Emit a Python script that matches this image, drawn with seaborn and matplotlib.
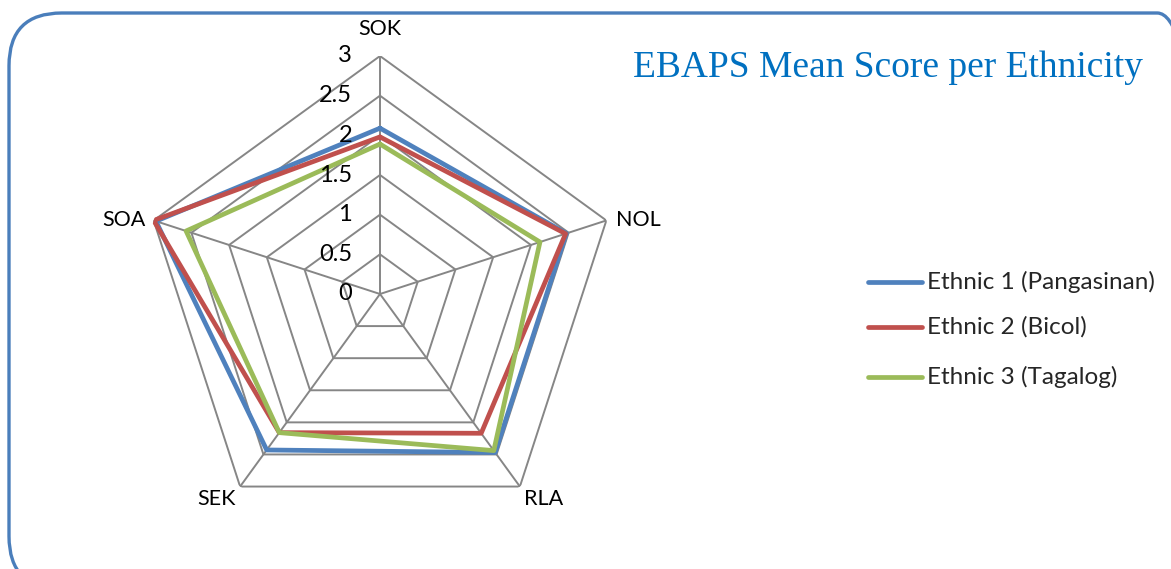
import numpy as np
import pandas as pd
import seaborn as sns
import matplotlib.pyplot as plt
from matplotlib.patches import FancyBboxPatch

# Dữ liệu
categories = ["SOK", "NOL", "RLA", "SEK", "SOA"]
series_names = ["Ethnic 1 (Pangasinan)", "Ethnic 2 (Bicol)", "Ethnic 3 (Tagalog)"]
ethnic1 = [2.09, 2.47, 2.47, 2.43, 2.97]
ethnic2 = [1.98, 2.46, 2.17, 2.16, 3.0]
ethnic3 = [1.89, 2.12, 2.44, 2.16, 2.57]
radial_ticks = [0, 0.5, 1, 1.5, 2, 2.5, 3]
radial_labels = ["0", "0.5", "1", "1.5", "2", "2.5", "3"]
colors = ["#4F81BD", "#C0504D", "#9BBB59"]

sns.set_style("white")
plt.rcParams["font.family"] = ["Lato", "DejaVu Sans"]

n = len(categories)
angles = np.linspace(0, 2 * np.pi, n, endpoint=False)
angles_closed = np.append(angles, 2 * np.pi)

rows = []
for name, vals in zip(series_names, [ethnic1, ethnic2, ethnic3]):
    closed = list(vals) + [vals[0]]
    for th, v in zip(angles_closed, closed):
        rows.append({"theta": th, "value": v, "series": name})
df = pd.DataFrame(rows)

W, H = 1171, 569
fig = plt.figure(figsize=(W / 100, H / 100), dpi=100)

# khung viền bo góc
border = FancyBboxPatch((9 / W, -20 / H), (W + 30) / W, (H - 13 + 20) / H,
                        boxstyle="round,pad=0,rounding_size=0.045",
                        transform=fig.transFigure, fill=False,
                        edgecolor="#4A7EBB", linewidth=2.4, mutation_aspect=W / H)
fig.patches.append(border)

cx, cy, R = 380, 294, 238
ax = fig.add_axes([(cx - R) / W, (H - cy - R) / H, 2 * R / W, 2 * R / H], projection="polar")
ax.set_theta_offset(np.pi / 2)
ax.set_theta_direction(-1)
ax.set_ylim(0, 3)
ax.grid(False)
ax.spines["polar"].set_visible(False)
ax.set_xticks([])
ax.set_yticks([])
ax.patch.set_alpha(0)

grid_col = "#868686"
for r in radial_ticks[1:]:
    ax.plot(angles_closed, [r] * (n + 1), color=grid_col, lw=1.4, zorder=1)
for th in angles:
    ax.plot([th, th], [0, 3], color=grid_col, lw=1.4, zorder=1)

sns.lineplot(data=df, x="theta", y="value", hue="series", palette=colors,
             sort=False, estimator=None, lw=3.4, ax=ax, zorder=3, legend=False)
ax.set_xlabel("")
ax.set_ylabel("")
ax.set_ylim(0, 3)

# nhãn trục bán kính
for r, lab in zip(radial_ticks, radial_labels):
    ax.annotate(lab, xy=(0, r), xytext=(-20, 0), textcoords="offset points",
                ha="right", va="center", fontsize=17, color="black")

# nhãn các đỉnh
offsets = {"SOK": (0, 12, "center", "bottom"), "NOL": (7, 0, "left", "center"),
           "RLA": (3, -2, "left", "top"), "SEK": (-3, -2, "right", "top"),
           "SOA": (-6, 0, "right", "center")}
for th, cat in zip(angles, categories):
    dx, dy, ha, va = offsets[cat]
    ax.annotate(cat, xy=(th, 3), xytext=(dx, dy), textcoords="offset points",
                ha=ha, va=va, fontsize=15.5, color="black")

fig.text(888 / W, 1 - 68 / H, "EBAPS Mean Score per Ethnicity", ha="center", va="center",
         fontsize=27, color="#0070C0", family=["Liberation Serif", "DejaVu Serif"])

# chú giải
legend_y = [282, 327, 377]
for name, col, y in zip(series_names, colors, legend_y):
    fig.add_artist(plt.Line2D([868 / W, 922 / W], [1 - y / H, 1 - y / H], color=col,
                              lw=3.4, solid_capstyle="round", transform=fig.transFigure))
    fig.text(927 / W, 1 - y / H, name, ha="left", va="center", fontsize=17.5)

fig.savefig("out.png", dpi=100)
